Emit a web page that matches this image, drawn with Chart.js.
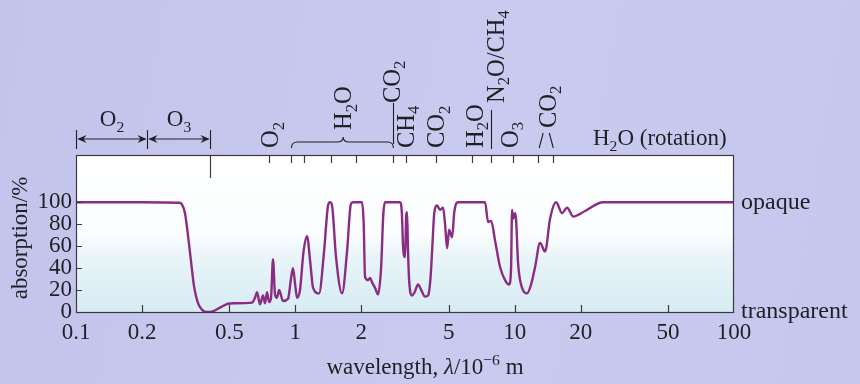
<!DOCTYPE html>
<html><head><meta charset="utf-8">
<script src="https://cdn.jsdelivr.net/npm/chart.js@4/dist/chart.umd.min.js"></script>
<style>
html,body{margin:0;padding:0;}
body{width:860px;height:384px;overflow:hidden;background:linear-gradient(100deg,#c3c4eb 0%,#c9caef 55%,#c6c7ee 100%);}
canvas{display:block;}
</style></head><body>
<canvas id="c" width="860" height="384"></canvas>
<script>
// ---- data ----
const wavelengths = [0.1,0.2,0.295,0.304,0.314,0.324,0.335,0.345,0.36,0.376,0.396,0.42,0.454,0.493,0.526,
 0.635,0.655,0.669,0.69,0.712,0.727,0.743,0.759,0.775,0.791,0.808,0.825,0.843,0.879,0.926,0.955,0.976,0.998,
 1.018,1.05,1.09,1.131,1.17,1.205,1.283,1.352,1.41,1.44,1.47,1.533,1.633,1.721,1.79,1.833,2.015,2.05,2.079,
 2.145,2.191,2.238,2.309,2.383,2.46,2.52,2.566,3.002,3.06,3.098,3.164,3.198,3.232,3.26,3.3,3.405,3.5,3.627,
 3.75,3.903,4.029,4.13,4.202,4.3,4.428,4.57,4.716,4.816,4.92,5.023,5.184,5.3,5.42,5.52,7.33,7.563,7.81,8.14,
 8.58,9.04,9.43,9.63,9.73,9.83,10.04,10.15,10.36,10.81,11.39,11.88,12.39,13.06,13.76,14.5,15.45,16.45,17.34,
 18.47,20.94,25.3,100];
const absorption = [100,100,99.5,98,90,70,45,24,8,2,0,0.5,4,7.5,8,
 8.5,13,18,7,15,8,18,9,13,48,16,13,20,10,12,30,40,25,
 13,20,55,69,45,22,17,55,97,100,97,50,17,55,98,100,100,80,32,
 29,31,27,22,16,40,90,100,100,90,60,50,85,91,60,30,15,18,25,
 20,14,15,30,55,90,97,93,95,80,58,75,68,90,99,100,100,82,83,65,
 41,29,25,40,93,85,90,84,45,22,17,25,41,63,55,85,100,90,95,
 87,92,100,100];
const xTickValues = [0.1,0.2,0.5,1,2,5,10,20,50,100];
const xTickLabels = ['0.1','0.2','0.5','1','2','5','10','20','50','100'];
const yTickValues = [0,20,40,60,80,100];
const yTickLabels = ['0','20','40','60','80','100'];
const sideTickValues = [0,100];
const sideTickLabels = ['transparent','opaque'];
const bandTicks = [0.76,0.96,1.1,1.45,1.9,2.8,3.2,4.4,6.4,7.8,9.8,12.8,15];
const bandLabelTexts = ['O_2','H_2O','CO_2','CH_4','CO_2','H_2O','N_2O/CH_4','O_3','CO_2'];
const bandLabelAt = [0.78,1.67,2.79,3.23,4.47,6.67,8.31,9.63,14.35];
const uvBands = ['O_2','O_3'];
const uvBandEdges = [0.1,0.21,0.41];
const farIRLabel = 'H_2O (rotation)';

// ---- helpers ----
const SERIF = '"Liberation Serif","DejaVu Serif",serif';
const INK = '#1f1f24';
function segs(str){
  const out=[];
  for(let i=0;i<str.length;i++){
    if(str[i]==='_'){out.push({t:str[i+1],sub:true});i++;}
    else{
      const l=out[out.length-1];
      if(l&&!l.sub&&!l.sup&&!l.it) l.t+=str[i]; else out.push({t:str[i]});
    }
  }
  return out;
}
function drawSegs(ctx,sg,x,y,size){
  let cx=x;
  for(const s of sg){
    const fs=(s.sub||s.sup)?size*0.68:size;
    ctx.font=(s.it?'italic ':'')+fs+'px '+SERIF;
    const dy=s.sub?size*0.24:(s.sup?-size*0.4:0);
    ctx.fillText(s.t,cx,y+dy);
    cx+=ctx.measureText(s.t).width;
  }
  return cx-x;
}
function widthSegs(ctx,sg,size){
  let w=0;
  for(const s of sg){
    const fs=(s.sub||s.sup)?size*0.68:size;
    ctx.font=(s.it?'italic ':'')+fs+'px '+SERIF;
    w+=ctx.measureText(s.t).width;
  }
  return w;
}
function arrowHead(ctx,x,y,dir){
  ctx.beginPath();
  ctx.moveTo(x,y);
  ctx.lineTo(x-dir*9,y-4);
  ctx.lineTo(x-dir*6,y);
  ctx.lineTo(x-dir*9,y+4);
  ctx.closePath();
  ctx.fill();
}

const bgPlugin={
  id:'bg',
  beforeDraw(chart){
    const {ctx,chartArea:a}=chart;
    ctx.save();
    const g=ctx.createLinearGradient(0,a.top,0,a.bottom);
    g.addColorStop(0,'#ffffff');
    g.addColorStop(0.5,'#fbfdfe');
    g.addColorStop(0.66,'#e8f4f8');
    g.addColorStop(1,'#d7ecf3');
    ctx.fillStyle=g;
    ctx.fillRect(a.left,a.top,a.right-a.left,a.bottom-a.top);
    ctx.restore();
  }
};

const annPlugin={
  id:'ann',
  afterDraw(chart){
    const {ctx,chartArea:a,scales}=chart;
    const xs=scales.x, ys=scales.y;
    ctx.save();
    // frame
    ctx.strokeStyle='#3a3a40';ctx.lineWidth=1.2;
    ctx.strokeRect(a.left+0.5,a.top+0.5,a.right-a.left-1,a.bottom-a.top);
    // inward ticks
    ctx.beginPath();
    xTickValues.slice(1,-1).forEach(v=>{const px=Math.round(xs.getPixelForValue(v))+0.5;ctx.moveTo(px,a.bottom);ctx.lineTo(px,a.bottom-7);});
    yTickValues.forEach(v=>{const py=Math.round(ys.getPixelForValue(v))+0.5;ctx.moveTo(a.left,py);ctx.lineTo(a.left+6,py);});
    bandTicks.forEach(v=>{const px=Math.round(xs.getPixelForValue(v))+0.5;ctx.moveTo(px,a.top);ctx.lineTo(px,a.top+8);});
    const o3e=Math.round(xs.getPixelForValue(uvBandEdges[2]))+0.5;
    ctx.moveTo(o3e,a.top);ctx.lineTo(o3e,a.top+23);
    ctx.stroke();

    ctx.fillStyle=INK;ctx.strokeStyle=INK;ctx.lineWidth=1.1;
    // UV band arrows
    const ay=139;
    const ex=uvBandEdges.map(v=>Math.round(xs.getPixelForValue(v))+0.5);
    ctx.beginPath();
    ex.forEach(px=>{ctx.moveTo(px,130);ctx.lineTo(px,149);});
    for(let i=0;i<2;i++){ctx.moveTo(ex[i]+2,ay);ctx.lineTo(ex[i+1]-2,ay);}
    ctx.stroke();
    for(let i=0;i<2;i++){arrowHead(ctx,ex[i]+1,ay,-1);arrowHead(ctx,ex[i+1]-1,ay,1);}
    ctx.textBaseline='alphabetic';
    uvBands.forEach((t,i)=>{
      const sg=segs(t);const w=widthSegs(ctx,sg,23);
      const cx=(ex[i]+ex[i+1])/2;
      drawSegs(ctx,sg,cx-w/2,126,23);
    });
    // far IR label
    {const sg=segs(farIRLabel);drawSegs(ctx,sg,593,145,23);}

    // rotated band labels
    const bottoms=[148,130,103,148,148,148,103,148,128];
    bandLabelTexts.forEach((t,i)=>{
      const px=xs.getPixelForValue(bandLabelAt[i]);
      ctx.save();
      ctx.translate(px+6.5,bottoms[i]);
      ctx.rotate(-Math.PI/2);
      drawSegs(ctx,segs(t),0,0,24.5);
      ctx.restore();
    });
    // brace over H2O band
    const b1=xs.getPixelForValue(bandTicks[1]), b2=xs.getPixelForValue(bandTicks[5]);
    const bm=xs.getPixelForValue(bandLabelAt[1])-1, by=142;
    ctx.beginPath();
    ctx.moveTo(b1,by+6);
    ctx.quadraticCurveTo(b1,by,b1+6,by);
    ctx.lineTo(bm-6,by);
    ctx.quadraticCurveTo(bm,by,bm,by-5);
    ctx.quadraticCurveTo(bm,by,bm+6,by);
    ctx.lineTo(b2-6,by);
    ctx.quadraticCurveTo(b2,by,b2,by+6);
    ctx.stroke();
    // separator lines
    ctx.beginPath();
    ctx.moveTo(Math.round(b2)+0.5,103);ctx.lineTo(Math.round(b2)+0.5,by+2);
    const n2=Math.round(xs.getPixelForValue(bandTicks[9]))+0.5;
    ctx.moveTo(n2,110);ctx.lineTo(n2,149);
    const c1=xs.getPixelForValue(bandTicks[11]), c2=xs.getPixelForValue(bandTicks[12]);
    ctx.moveTo(c1+1,148);ctx.lineTo(c1+5,133);
    ctx.moveTo(c2,148);ctx.lineTo(c2-4,133);
    ctx.stroke();

    // y axis title
    ctx.save();
    ctx.translate(27,238);ctx.rotate(-Math.PI/2);
    ctx.font='23px '+SERIF;ctx.textAlign='center';
    ctx.fillText('absorption/%',0,0);
    ctx.restore();
    // x axis title
    const tsegs=[{t:'wavelength, '},{t:'λ',it:true},{t:'/10'},{t:'−6',sup:true},{t:' m'}];
    const tw=widthSegs(ctx,tsegs,23);
    ctx.textAlign='left';
    drawSegs(ctx,tsegs,425-tw/2,374,23);
    ctx.restore();
  }
};

new Chart(document.getElementById('c'),{
  type:'line',
  data:{datasets:[{
    data:wavelengths.map((w,i)=>({x:w,y:absorption[i]})),
    borderColor:'#8a2c84',borderWidth:2.4,pointRadius:0,fill:false,
    cubicInterpolationMode:'monotone'
  }]},
  options:{
    responsive:false,animation:false,devicePixelRatio:1,
    layout:{padding:{top:155,left:0,right:0,bottom:0}},
    plugins:{legend:{display:false},tooltip:{enabled:false}},
    scales:{
      x:{type:'logarithmic',min:0.1,max:100,
        afterBuildTicks:s=>{s.ticks=xTickValues.map(v=>({value:v}));},
        afterFit:s=>{s.height=72;},
        grid:{display:false,drawTicks:false},border:{display:false},
        ticks:{autoSkip:false,maxRotation:0,padding:7,color:INK,font:{family:SERIF,size:23},
          callback:(v,i)=>xTickLabels[i]}},
      y:{min:0,max:143,position:'left',
        afterBuildTicks:s=>{s.ticks=yTickValues.map(v=>({value:v}));},
        afterFit:s=>{s.width=76;},
        grid:{display:false,drawTicks:false},border:{display:false},
        ticks:{padding:4,color:INK,font:{family:SERIF,size:23},callback:(v,i)=>yTickLabels[i]}},
      y2:{min:0,max:143,position:'right',
        afterBuildTicks:s=>{s.ticks=sideTickValues.map(v=>({value:v}));},
        afterFit:s=>{s.width=126;},
        grid:{display:false,drawTicks:false},border:{display:false},
        ticks:{padding:7,color:INK,font:{family:SERIF,size:24},callback:(v,i)=>sideTickLabels[i]}}
    }
  },
  plugins:[bgPlugin,annPlugin]
});
</script>
</body></html>
